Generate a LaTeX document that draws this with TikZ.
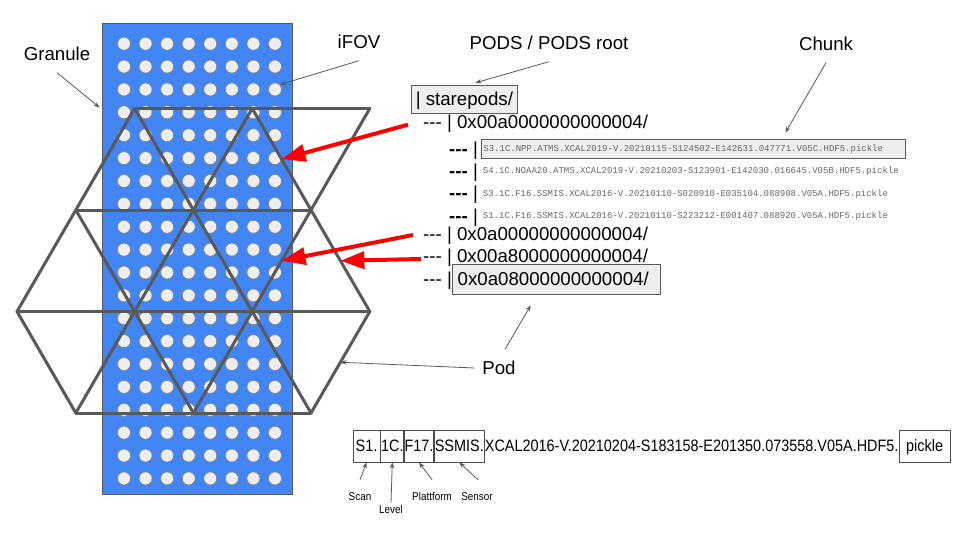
\documentclass[tikz,border=0pt]{standalone}
\usepackage{fontspec}
\setmainfont{Liberation Sans}
\setmonofont{Liberation Mono}
\newfontfamily\narrowfont[FakeStretch=0.875]{Liberation Sans}
\usetikzlibrary{arrows.meta,positioning,calc}
\definecolor{granuleblue}{HTML}{4285F4}
\definecolor{linegray}{HTML}{595959}
\definecolor{dotfill}{HTML}{EEEEEE}
\definecolor{chunkgray}{HTML}{666666}
\newcommand{\bigfont}{\fontsize{18.67}{20}\selectfont}
\newcommand{\threedash}{-\kern0pt-\kern0pt-}
\tikzset{
	tag/.style={font=\bigfont, text height=13.4pt, text depth=0pt, inner sep=4pt, outer sep=8pt},
	rowtext/.style={anchor=west, inner sep=0pt, font=\bigfont, text height=13.4pt, text depth=0pt},
	greybox/.style={draw=linegray, fill=dotfill, line width=0.8pt},
	chunktext/.style={anchor=west, inner sep=0pt, font=\fontsize{9}{10}\ttfamily, text=chunkgray, text height=5.9pt, text depth=0pt},
	ifovdot/.style={circle, draw=gray, fill=dotfill, line width=0.6pt, minimum size=13pt, inner sep=0pt},
	hexline/.style={draw=linegray, line width=3pt, line join=round, line cap=round},
	pointer/.style={draw=linegray, line width=0.8pt, -{Stealth[length=6pt,width=4.5pt]}},
	redarrow/.style={draw=red, line width=4pt, -{Triangle[length=24pt,width=17pt]}},
	fnbox/.style={draw=black!70, line width=0.8pt, inner xsep=0pt, minimum height=32pt, font=\narrowfont\fontsize{16.5}{18}\selectfont, text height=11.8pt, text depth=0pt},
	fntext/.style={inner sep=0pt, font=\narrowfont\fontsize{16.5}{18}\selectfont, text height=11.8pt, text depth=0pt},
	fnlabel/.style={inner sep=1pt, font=\narrowfont\fontsize{11.3}{12}\selectfont, text height=8.1pt, text depth=0pt}
}
\begin{document}
\begin{tikzpicture}[x=1pt,y=-1pt]
	\useasboundingbox (0,0) rectangle (960,540);
	% granule
	\node[draw=linegray, fill=granuleblue, line width=0.8pt, minimum width=190pt, minimum height=471pt, inner sep=0pt] (granulebox) at (197,258.5) {};
	\foreach \i in {0,...,7}
		\foreach \j in {0,...,19}
			\node[ifovdot] (d-\i-\j) at ({124+21.57*\i},{43.7+22.88*\j}) {};
	% pods
	\foreach \k in {0,...,6}
		\foreach \r in {0,...,3}
			\coordinate (v-\k-\r) at ({17+58.8*\k},{108.5+101.5*\r});
	\draw[hexline] (v-2-0) -- (v-6-0) (v-1-1) -- (v-5-1) (v-0-2) -- (v-6-2) (v-1-3) -- (v-5-3);
	\draw[hexline] (v-2-0) -- (v-5-3) (v-1-1) -- (v-3-3) (v-0-2) -- (v-1-3) (v-4-0) -- (v-6-2);
	\draw[hexline] (v-2-0) -- (v-0-2) (v-4-0) -- (v-1-3) (v-6-0) -- (v-3-3) (v-6-2) -- (v-5-3);
	% labels
	\node[tag] (granule) at (57,54) {Granule};
	\node[tag] (ifov) at (359,42) {iFOV};
	\node[tag] (pods) at (549,43) {PODS / PODS root};
	\node[tag] (chunk) at (826,44) {Chunk};
	\node[tag] (pod) at (499,368) {Pod};
	% tree
	\node[greybox, rowtext, inner xsep=4.7pt, minimum height=28pt] (root) at (410.7,99.2) {| starepods/};
	\node[rowtext] (pod1) at (423,121.7) {\threedash\ | 0x00a0000000000004/};
	\node[rowtext] (dash1) at (449,148.5) {\textbf{\threedash}\ |};
	\node[greybox, chunktext, inner xsep=2pt, minimum height=19pt, text width=420pt, align=left] (chunk1) at (481,148.5) {S3.1C.NPP.ATMS.XCAL2019-V.20210115-S124502-E142631.047771.V05C.HDF5.pickle};
	\node[rowtext] (dash2) at (449,170.7) {\textbf{\threedash}\ |};
	\node[chunktext] (chunk2) at (482.7,170.7) {S4.1C.NOAA20.ATMS.XCAL2019-V.20210203-S123901-E142030.016645.V05B.HDF5.pickle};
	\node[rowtext] (dash3) at (449,193.3) {\textbf{\threedash}\ |};
	\node[chunktext] (chunk3) at (482.7,193.3) {S3.1C.F16.SSMIS.XCAL2016-V.20210110-S020910-E035104.088908.V05A.HDF5.pickle};
	\node[rowtext] (dash4) at (449,215.7) {\textbf{\threedash}\ |};
	\node[chunktext] (chunk4) at (482.7,215.7) {S1.1C.F16.SSMIS.XCAL2016-V.20210110-S223212-E001407.088920.V05A.HDF5.pickle};
	\node[rowtext] (pod2) at (423,234) {\threedash\ | 0x0a00000000000004/};
	\node[rowtext] (pod3) at (423,256) {\threedash\ | 0x00a8000000000004/};
	\node[rowtext] (dash5) at (423,279) {\threedash\ |};
	\node[greybox, rowtext, inner xsep=5pt, minimum height=30pt, text width=198pt, align=left] (pod4) at (452.3,279) {0x0a08000000000004/};
	% pointers
	\draw[pointer] (granule.south) -- ([xshift=-2pt,yshift=-85pt]granulebox.north west);
	\draw[pointer] (ifov.south) -- (d-7-2.north east);
	\draw[pointer] (pods.south) -- ([xshift=11pt,yshift=2pt]root.north);
	\draw[pointer] (chunk.south) -- ([xshift=92pt,yshift=6pt]chunk1.north);
	\draw[pointer] ([xshift=6pt]pod.north) -- ([xshift=-26pt,yshift=-11pt]pod4.south);
	\draw[pointer] ([xshift=4pt]pod.west) -- ($(v-6-2)!0.5!(v-5-3)$);
	% red arrows
	\draw[redarrow] ([xshift=-15pt,yshift=-3pt]pod1.west) -- ($(v-4-0)!0.5!(v-5-1)$);
	\draw[redarrow] ([xshift=-10pt,yshift=-1pt]pod2.west) -- ($(v-6-0)!0.5!(v-3-3)$);
	\draw[redarrow] ([xshift=-2pt,yshift=-3pt]pod3.west) -- ($(v-4-0)!0.75!(v-6-2)$);
	% file name
	\node[fnbox, minimum width=27pt] (scan) at (366.5,446) {S1.};
	\node[fnbox, minimum width=23pt, right=0pt of scan] (level) {1C.};
	\node[fnbox, minimum width=27pt, right=0pt of level] (platform) {F17.};
	\node[fnbox, minimum width=50pt, right=0pt of platform] (sensor) {SSMIS.};
	\node[fntext, right=0pt of sensor] (rest) {XCAL2016-V.20210204-S183158-E201350.073558.V05A.HDF5.};
	\node[fnbox, minimum width=51pt, right=0pt of rest] (ext) {pickle};
	\node[fnlabel] (scanlbl) at (360,496) {Scan};
	\node[fnlabel] (levellbl) at (391,509) {Level};
	\node[fnlabel] (platformlbl) at (432,496) {Plattform};
	\node[fnlabel] (sensorlbl) at (477,496) {Sensor};
	\draw[pointer] ([yshift=11pt]scanlbl.north) -- (scan.south);
	\draw[pointer] ([yshift=1pt]levellbl.north) -- (level.south);
	\draw[pointer] ([yshift=11pt]platformlbl.north) -- (platform.south);
	\draw[pointer] ([xshift=1pt,yshift=11pt]sensorlbl.north) -- (sensor.south);
\end{tikzpicture}
\end{document}
